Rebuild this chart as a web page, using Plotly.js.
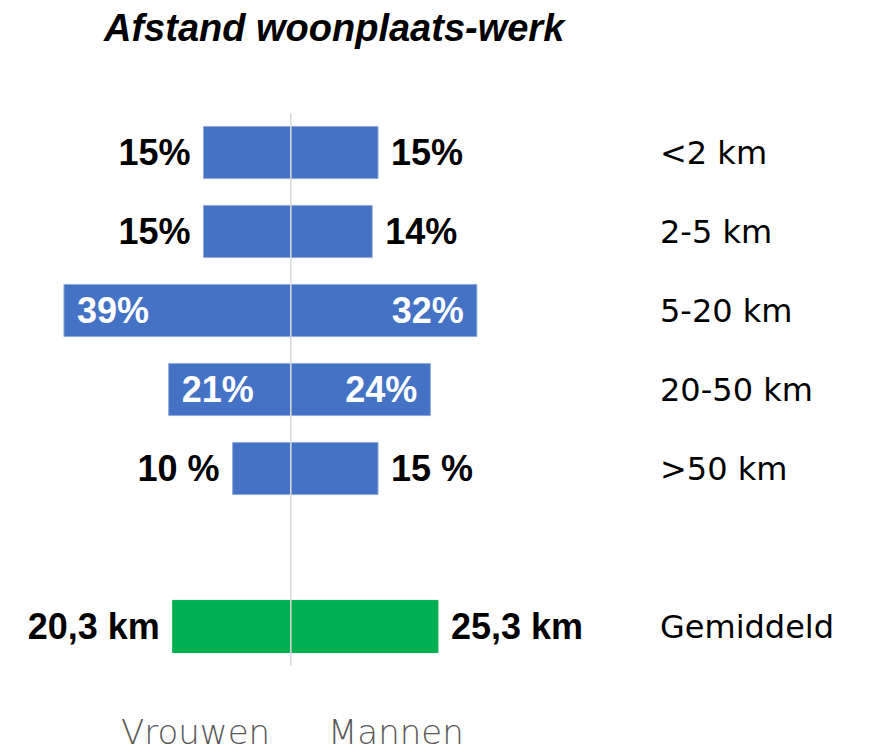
<!DOCTYPE html>
<html><head><meta charset="utf-8">
<script src="https://cdn.plot.ly/plotly-3.0.1.min.js"></script>
<style>html,body{margin:0;padding:0;background:#fff}</style>
</head><body><div id="chart" style="width:884px;height:752px"></div>
<script>
const chartTitle = "Afstand woonplaats-werk";
const categories = ["<2 km", "2-5 km", "5-20 km", "20-50 km", ">50 km", " ", "Gemiddeld"];
const vrouwen = [15, 15, 39, 21, 10, null, 20.3];
const mannen = [15, 14, 32, 24, 15, null, 25.3];
const vrouwenLabels = ["15%", "15%", "39%", "21%", "10 %", "", "20,3 km"];
const mannenLabels = ["15%", "14%", "32%", "24%", "15 %", "", "25,3 km"];
const labelInside = [false, false, true, true, false, false, false];
const groupNames = ["Vrouwen", "Mannen"];

const BLUE = "#4472C4", GREEN = "#00B050";
const NB = "\u00a0";
const barColors = categories.map(c => c === "Gemiddeld" ? GREEN : BLUE);
const lineColors = categories.map(c => c === "Gemiddeld" ? GREEN : "#8FAADC");
const positions = labelInside.map((ins, i) => vrouwenLabels[i] === "" ? "none" : (ins ? "inside" : "outside"));
const textColors = labelInside.map(ins => ins ? "#ffffff" : "#000000");

function pad(lbl, i, side) {
  if (!lbl) return "";
  if (side === "left") return labelInside[i] ? NB + lbl : lbl + NB;
  return labelInside[i] ? lbl + NB : NB + lbl;
}

const tf = { family: "Liberation Sans, Arial, sans-serif", size: 36, color: textColors, weight: "bold" };
const common = {
  type: "bar", orientation: "h", y: categories,
  marker: { color: barColors, line: { color: lineColors, width: 1 } },
  textposition: positions, insidetextanchor: "end", constraintext: "none",
  textangle: 0, cliponaxis: false, hoverinfo: "none",
  textfont: tf, insidetextfont: tf, outsidetextfont: tf
};

const traces = [
  Object.assign({}, common, {
    name: groupNames[0],
    x: vrouwen.map(v => v == null ? null : -v),
    text: vrouwenLabels.map((l, i) => pad(l, i, "left"))
  }),
  Object.assign({}, common, {
    name: groupNames[1],
    x: mannen,
    text: mannenLabels.map((l, i) => pad(l, i, "right"))
  })
];

const annotations = categories.filter(c => c.trim() !== "").map(c => ({
  x: 63.2, y: c, xref: "x", yref: "y", xanchor: "left", yanchor: "middle",
  text: c, showarrow: false,
  font: { family: "DejaVu Sans, sans-serif", size: 32, color: "#000000" }
}));
annotations.push({
  x: -3.3, y: -0.12, xref: "x", yref: "paper", xanchor: "right", yanchor: "middle",
  text: groupNames[0], showarrow: false,
  font: { family: "DejaVu Sans, sans-serif", size: 34, color: "#595959", weight: 300 }
});
annotations.push({
  x: 6, y: -0.12, xref: "x", yref: "paper", xanchor: "left", yanchor: "middle",
  text: groupNames[1], showarrow: false,
  font: { family: "DejaVu Sans, sans-serif", size: 34, color: "#595959", weight: 300 }
});

const layout = {
  width: 884, height: 752,
  paper_bgcolor: "#ffffff", plot_bgcolor: "#ffffff",
  margin: { l: 0, r: 0, t: 113, b: 86 },
  showlegend: false,
  barmode: "overlay", bargap: 0.34,
  title: {
    text: chartTitle, x: 0.378, xref: "paper", xanchor: "center",
    y: 0.963, yref: "container", yanchor: "middle",
    font: { family: "Liberation Sans, Arial, sans-serif", size: 38, color: "#000000", weight: "bold", style: "italic" }
  },
  xaxis: { range: [-50, 102], visible: false, fixedrange: true },
  yaxis: {
    type: "category", categoryorder: "array", categoryarray: categories,
    range: [6.5, -0.5], showticklabels: false, showgrid: false, zeroline: false,
    showline: false, ticks: "", fixedrange: true
  },
  shapes: [{
    type: "line", xref: "x", yref: "paper", x0: 0, x1: 0, y0: 0, y1: 1,
    line: { color: "#d9d9d9", width: 1.5 }, layer: "above"
  }],
  annotations: annotations
};

Plotly.newPlot("chart", traces, layout, { displayModeBar: false, staticPlot: true });
</script>
</body></html>
